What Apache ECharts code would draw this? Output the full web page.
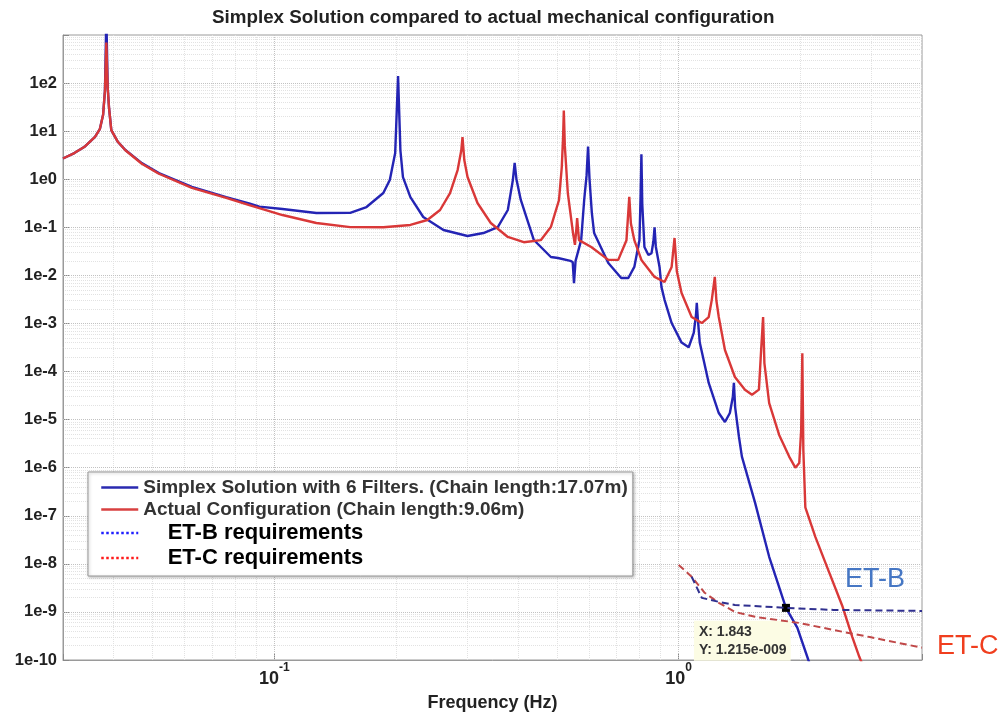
<!DOCTYPE html>
<html lang="en">
<head>
<meta charset="UTF-8">
<title>Simplex Solution compared to actual mechanical configuration</title>
<style>
    html, body { margin: 0; padding: 0; background: #fff; }
    #chart { width: 1006px; height: 714px; }
</style>
</head>
<body>
<div id="chart"></div>
<script src="https://cdn.jsdelivr.net/npm/echarts@6/dist/echarts.min.js"></script>
<script>
    // values (frequency in Hz, magnitude)
    var simplexFreq = [0.03, 0.032, 0.034, 0.036, 0.037, 0.0377, 0.0381, 0.0384, 0.0387, 0.039, 0.0395, 0.041, 0.0428, 0.047, 0.0518, 0.0625, 0.076, 0.087, 0.0918, 0.1047, 0.127, 0.154, 0.169, 0.186, 0.193, 0.199, 0.2023, 0.205, 0.208, 0.217, 0.2335, 0.262, 0.3005, 0.329, 0.357, 0.378, 0.389, 0.393, 0.397, 0.407, 0.4385, 0.483, 0.503, 0.54, 0.547, 0.551, 0.556, 0.574, 0.584, 0.592, 0.597, 0.602, 0.61, 0.618, 0.67, 0.721, 0.751, 0.777, 0.8, 0.805, 0.809, 0.813, 0.823, 0.842, 0.857, 0.866, 0.872, 0.878, 0.897, 0.907, 0.923, 0.961, 1.017, 1.059, 1.09, 1.104, 1.109, 1.116, 1.128, 1.187, 1.257, 1.302, 1.339, 1.362, 1.37, 1.38, 1.41, 1.434, 1.546, 1.675, 1.843, 1.966, 2.094, 2.2];
    var simplexMag = [2.7, 3.5, 4.8, 7.6, 11, 22, 70, 2500, 80, 30, 10.5, 6.0, 4.05, 2.16, 1.34, 0.69, 0.426, 0.31, 0.27, 0.24, 0.198, 0.2, 0.264, 0.516, 0.96, 3.5, 140, 4, 1.11, 0.426, 0.164, 0.088, 0.066, 0.076, 0.101, 0.229, 0.96, 2.2, 1.0, 0.37, 0.0544, 0.0241, 0.023, 0.02, 0.019, 0.0069, 0.02, 0.054, 0.37, 1.2, 4.8, 1.0, 0.2, 0.076, 0.0181, 0.0088, 0.0088, 0.015, 0.054, 0.4, 3.3, 0.3, 0.039, 0.0265, 0.029, 0.05, 0.1, 0.04, 0.015, 0.0057, 0.0031, 0.00102, 0.0004, 0.00032, 0.00064, 0.0015, 0.0027, 0.0012, 0.0004, 5.8e-5, 1.37e-5, 8.9e-6, 1.37e-5, 3.0e-5, 5.8e-5, 1.8e-5, 4.4e-6, 1.7e-6, 1.85e-7, 1.4e-8, 1.215e-9, 4.7e-10, 1.0e-10, 3e-11];

    var actualFreq = [0.03, 0.032, 0.034, 0.036, 0.037, 0.0377, 0.0381, 0.0384, 0.0387, 0.039, 0.0395, 0.041, 0.0428, 0.047, 0.0518, 0.0625, 0.076, 0.0867, 0.1047, 0.127, 0.154, 0.186, 0.217, 0.239, 0.257, 0.272, 0.284, 0.29, 0.292, 0.295, 0.3005, 0.318, 0.343, 0.378, 0.414, 0.456, 0.483, 0.506, 0.514, 0.518, 0.52, 0.523, 0.532, 0.548, 0.554, 0.559, 0.561, 0.564, 0.567, 0.608, 0.67, 0.709, 0.743, 0.755, 0.762, 0.777, 0.809, 0.872, 0.923, 0.961, 0.977, 0.99, 1.017, 1.077, 1.141, 1.187, 1.208, 1.229, 1.24, 1.257, 1.302, 1.378, 1.459, 1.519, 1.58, 1.6, 1.618, 1.63, 1.675, 1.773, 1.877, 1.944, 1.988, 2.01, 2.023, 2.035, 2.058, 2.18, 2.36, 2.545, 2.69, 2.8, 2.95];
    var actualMag = [2.7, 3.5, 4.8, 7.6, 11, 22, 70, 700, 80, 30, 10.5, 6.0, 4.0, 2.1, 1.3, 0.66, 0.41, 0.29, 0.18, 0.123, 0.101, 0.1, 0.112, 0.142, 0.229, 0.516, 1.55, 4, 7.5, 2.5, 1.11, 0.32, 0.123, 0.063, 0.049, 0.054, 0.101, 0.37, 1.79, 8, 27, 5, 0.516, 0.076, 0.043, 0.1, 0.156, 0.09, 0.054, 0.039, 0.021, 0.021, 0.054, 0.43, 0.12, 0.054, 0.021, 0.0093, 0.0073, 0.015, 0.06, 0.012, 0.0043, 0.00136, 0.00102, 0.00136, 0.0031, 0.0093, 0.003, 0.00136, 0.00028, 7.7e-5, 4.2e-5, 3.3e-5, 4.2e-5, 0.00028, 0.00136, 0.00015, 2.2e-5, 4.8e-6, 1.7e-6, 1.0e-6, 1.25e-6, 6.1e-6, 0.00024, 2.3e-6, 1.5e-7, 3.6e-8, 6.5e-9, 1.28e-9, 3.0e-10, 1.15e-10, 4e-11];

    var etbFreq = [1.077, 1.141, 1.257, 1.378, 1.843, 2.42, 4.0];
    var etbMag = [5.4e-9, 1.96e-9, 1.62e-9, 1.4e-9, 1.215e-9, 1.1e-9, 1.05e-9];

    var etcFreq = [1.0, 1.077, 1.16, 1.257, 1.378, 1.546, 1.988, 2.42, 2.97, 4.0];
    var etcMag = [9.5e-9, 5.4e-9, 2.5e-9, 1.55e-9, 1.0e-9, 7.9e-10, 5.9e-10, 4.2e-10, 3.0e-10, 1.8e-10];

    var tipX = 1.843;
    var tipY = 1.215e-9;

    var seriesNames = [
        'Simplex Solution with 6 Filters. (Chain length:17.07m)',
        'Actual Configuration (Chain length:9.06m)',
        'ET-B requirements',
        'ET-C requirements'
    ];

    // axis limits, grid decades and the 2..9 sub-lines
    var xMin = 0.03, xMax = 4;
    var yMin = 1e-10, yMax = 1000;
    var xDecades = [0.1, 1];
    var yDecades = [1e-9, 1e-8, 1e-7, 1e-6, 1e-5, 1e-4, 1e-3, 1e-2, 1e-1, 1, 10, 100];
    var xMinor = [0.04, 0.05, 0.06, 0.07, 0.08, 0.09, 0.2, 0.3, 0.4, 0.5, 0.6, 0.7, 0.8, 0.9, 2, 3];
    var yMinor = [];
    for (var e = -10; e <= 2; e++) {
        for (var k = 2; k <= 9; k++) {
            yMinor.push(k * Math.pow(10, e));
        }
    }

    function zip(xs, ys) {
        var out = [];
        for (var i = 0; i < xs.length; i++) out.push([xs[i], ys[i]]);
        return out;
    }

    function decadeOf(v) {
        var l = Math.log10(v);
        var r = Math.round(l);
        return Math.abs(l - r) < 1e-4 ? r : null;
    }

    function vLines(xs) {
        return xs.map(function (x) { return { coords: [[x, yMin], [x, yMax]] }; });
    }
    function hLines(ys) {
        return ys.map(function (y) { return { coords: [[xMin, y], [xMax, y]] }; });
    }

    var font = 'Liberation Sans, Arial, sans-serif';
    var chart = echarts.init(document.getElementById('chart'));

    var option = {
        backgroundColor: '#fff',
        animation: false,
        title: {
            text: 'Simplex Solution compared to actual mechanical configuration',
            left: 207,
            top: 3,
            textStyle: { fontFamily: font, fontSize: 18.8, fontWeight: 'bold', color: '#222' }
        },
        grid: {
            left: 63,
            top: 35,
            right: 84,
            bottom: 54,
            outerBoundsMode: 'none',
            containLabel: false,
            show: true,
            backgroundColor: '#fff',
            borderColor: '#9a9a9a',
            borderWidth: 1
        },
        legend: {
            orient: 'vertical',
            left: 88,
            top: 472,
            itemWidth: 37,
            itemHeight: 14,
            itemGap: 3,
            padding: [6, 5, 7, 12],
            backgroundColor: '#fff',
            borderColor: '#999',
            borderWidth: 1,
            shadowBlur: 3,
            shadowColor: 'rgba(0,0,0,0.25)',
            shadowOffsetX: 1,
            shadowOffsetY: 1,
            itemStyle: { opacity: 0 },
            textStyle: { fontFamily: font, fontSize: 19, fontWeight: 'bold', color: '#333' },
            formatter: function (name) {
                return name.indexOf('ET-') === 0 ? '    ' + name : name;
            },
            data: [
                { name: seriesNames[0], itemStyle: { opacity: 0 }, lineStyle: { color: '#2a2ab0', width: 2.5 } },
                { name: seriesNames[1], itemStyle: { opacity: 0 }, lineStyle: { color: '#d84040', width: 2.5 } },
                { name: seriesNames[2], itemStyle: { opacity: 0 }, lineStyle: { color: '#2020ff', type: 'dotted', width: 2.5 },
                  textStyle: { fontSize: 22, color: '#000' } },
                { name: seriesNames[3], itemStyle: { opacity: 0 }, lineStyle: { color: '#ff1a1a', type: 'dotted', width: 2.5 },
                  textStyle: { fontSize: 22, color: '#000' } }
            ]
        },
        xAxis: {
            type: 'log',
            logBase: 10,
            min: xMin,
            max: xMax,
            name: 'Frequency (Hz)',
            nameLocation: 'middle',
            nameGap: 34,
            nameTextStyle: { fontFamily: font, fontSize: 18, fontWeight: 'bold', color: '#222' },
            axisLine: { show: true, lineStyle: { color: '#9a9a9a' } },
            axisTick: { show: true, inside: true, length: 6, lineStyle: { color: '#888' } },
            splitLine: { show: false },
            axisLabel: {
                margin: 2,
                formatter: function (v) {
                    var d = decadeOf(v);
                    if (d === null) return '';
                    return '{b|10}{s|' + d + '}';
                },
                rich: {
                    b: { fontFamily: font, fontSize: 18, fontWeight: 'bold', color: '#222', lineHeight: 26, verticalAlign: 'bottom' },
                    s: { fontFamily: font, fontSize: 12, fontWeight: 'bold', color: '#222', lineHeight: 26, verticalAlign: 'top' }
                }
            }
        },
        yAxis: {
            type: 'log',
            logBase: 10,
            min: yMin,
            max: yMax,
            interval: 1,
            axisLine: { show: true, lineStyle: { color: '#9a9a9a' } },
            axisTick: { show: true, inside: true, length: 6, lineStyle: { color: '#888' } },
            splitLine: { show: false },
            axisLabel: {
                margin: 6,
                fontFamily: font,
                fontSize: 16.5,
                fontWeight: 'bold',
                color: '#222',
                formatter: function (v) {
                    var d = decadeOf(v);
                    if (d === null || d === 3) return '';
                    return '1e' + d;
                }
            }
        },
        graphic: [
            {
                type: 'text',
                left: 845,
                top: 566,
                z: 100,
                style: { text: 'ET-B', fill: '#4677c4', fontSize: 27, fontFamily: font }
            },
            {
                type: 'text',
                left: 937,
                top: 633,
                z: 100,
                style: { text: 'ET-C', fill: '#f03e1e', fontSize: 27, fontFamily: font }
            }
        ],
        series: [
            {
                name: 'minor grid',
                type: 'lines',
                coordinateSystem: 'cartesian2d',
                silent: true,
                z: 0,
                lineStyle: { color: '#e2e2e2', width: 1, type: 'dotted', opacity: 1 },
                data: vLines(xMinor).concat(hLines(yMinor))
            },
            {
                name: 'major grid',
                type: 'lines',
                coordinateSystem: 'cartesian2d',
                silent: true,
                z: 1,
                lineStyle: { color: '#c2c2c2', width: 1, type: 'dotted', opacity: 1 },
                data: vLines(xDecades).concat(hLines(yDecades))
            },
            {
                name: seriesNames[0],
                type: 'line',
                data: zip(simplexFreq, simplexMag),
                showSymbol: false,
                symbol: 'none',
                z: 3,
                lineStyle: { color: '#2424b4', width: 2.4 },
                itemStyle: { color: '#2424b4' }
            },
            {
                name: seriesNames[1],
                type: 'line',
                data: zip(actualFreq, actualMag),
                showSymbol: false,
                symbol: 'none',
                z: 4,
                lineStyle: { color: '#d93838', width: 2.4 },
                itemStyle: { color: '#d93838' }
            },
            {
                name: seriesNames[3],
                type: 'line',
                data: zip(etcFreq, etcMag),
                symbol: 'none',
                z: 5,
                lineStyle: { color: '#c04848', width: 2, type: [7, 4] },
                itemStyle: { color: '#ff1a1a' }
            },
            {
                name: seriesNames[2],
                type: 'line',
                data: zip(etbFreq, etbMag),
                symbol: 'none',
                z: 6,
                lineStyle: { color: '#30308f', width: 2, type: [7, 4] },
                itemStyle: { color: '#2020ff' },
                markPoint: {
                    symbol: 'rect',
                    symbolSize: 8,
                    itemStyle: { color: '#000' },
                    data: [{ coord: [tipX, tipY] }],
                    label: {
                        show: true,
                        position: [-88, 17],
                        formatter: 'X: ' + tipX + '\nY: 1.215e-009',
                        align: 'left',
                        verticalAlign: 'top',
                        backgroundColor: '#fcfce4',
                        color: '#333',
                        fontFamily: font,
                        fontWeight: 'bold',
                        fontSize: 14,
                        lineHeight: 18,
                        padding: [2, 4, 2, 5]
                    }
                }
            }
        ]
    };

    chart.setOption(option);
</script>
</body>
</html>
